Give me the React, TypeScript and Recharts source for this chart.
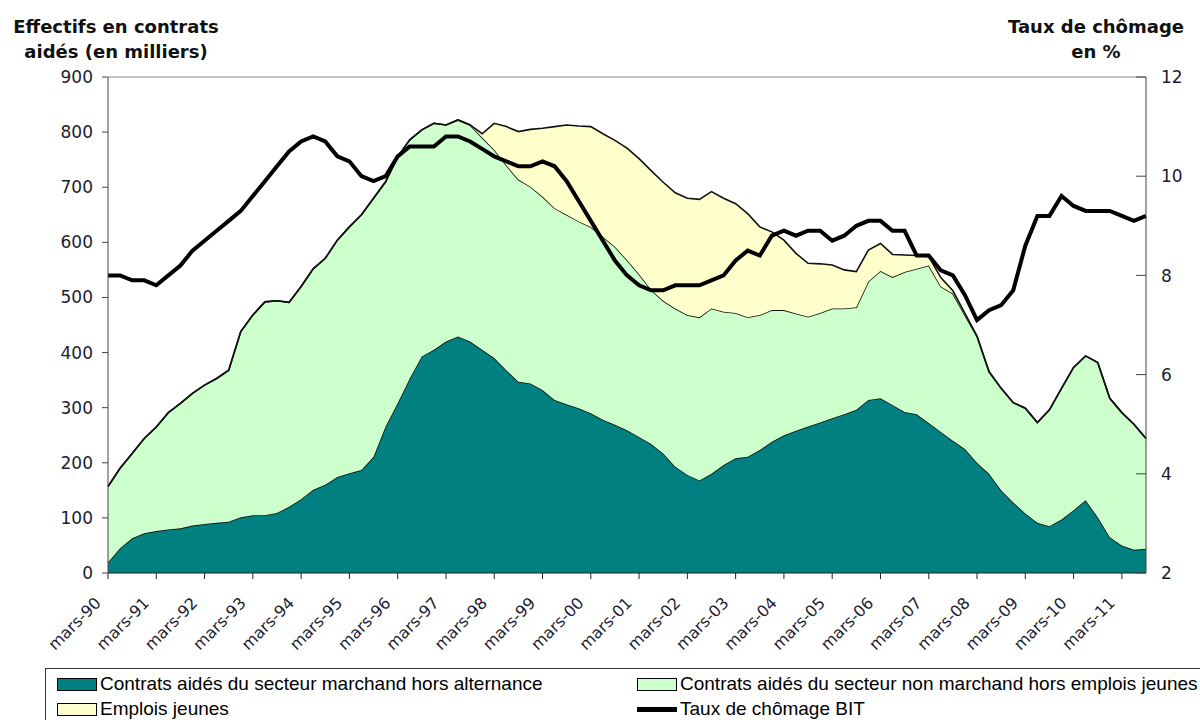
import { ComposedChart, Area, Line, XAxis, YAxis, ReferenceLine } from "recharts"

// quarterly series, mars-90 .. sept-11 (en milliers / en %)
const years = ["90", "91", "92", "93", "94", "95", "96", "97", "98", "99", "00", "01", "02", "03", "04", "05", "06", "07", "08", "09", "10", "11"]
const months = ["mars", "juin", "sept", "déc"]

const marchand = [
  19, 45, 63, 72, 76, 79, 81, 86, 89, 91, 93, 101, 105, 105, 109, 120, 134, 151, 160, 174,
  181, 187, 211, 266, 308, 353, 393, 405, 420, 429, 420, 405, 390, 368, 347, 344, 332, 314, 306, 299,
  290, 278, 269, 259, 247, 234, 217, 193, 178, 168, 180, 196, 208, 211, 223, 238, 250, 258, 266, 273,
  281, 288, 296, 314, 317, 305, 292, 288, 272, 256, 240, 225, 200, 180, 150, 128, 108, 91, 85, 97,
  114, 132, 101, 65, 50, 42, 44,
]

const nonMarchand = [
  138, 145, 154, 172, 189, 212, 227, 240, 252, 262, 275, 337, 363, 387, 385, 371, 386, 401, 411, 430,
  447, 463, 469, 444, 447, 433, 411, 411, 393, 393, 393, 385, 378, 372, 367, 357, 351, 348, 344, 339,
  338, 332, 323, 309, 295, 280, 277, 287, 290, 296, 300, 278, 264, 253, 245, 239, 227, 213, 199, 199,
  199, 192, 186, 215, 231, 232, 254, 264, 286, 264, 267, 243, 229, 185, 185, 181, 191, 182, 211, 238,
  259, 262, 281, 252, 241, 228, 200,
]

const emploisJeunes = [
  0, 0, 0, 0, 0, 0, 0, 0, 0, 0, 0, 0, 0, 0, 0, 0, 0, 0, 0, 0,
  0, 0, 0, 0, 0, 0, 0, 0, 0, 0, 0, 7, 48, 70, 87, 104, 124, 148, 163, 173,
  182, 187, 193, 203, 210, 216, 215, 210, 212, 214, 212, 206, 198, 188, 160, 142, 127, 109, 97, 89,
  79, 70, 65, 57, 50, 41, 31, 24, 16, 16, 5, 3, 1, 0, 0, 0, 0, 0, 0, 0,
  0, 0, 0, 0, 0, 0, 0,
]

const chomage = [
  8.0, 8.0, 7.9, 7.9, 7.8, 8.0, 8.2, 8.5, 8.7, 8.9, 9.1, 9.3, 9.6, 9.9, 10.2, 10.5, 10.7, 10.8, 10.7, 10.4,
  10.3, 10.0, 9.9, 10.0, 10.4, 10.6, 10.6, 10.6, 10.8, 10.8, 10.7, 10.55, 10.4, 10.3, 10.2, 10.2, 10.3, 10.2, 9.9, 9.5,
  9.1, 8.7, 8.3, 8.0, 7.8, 7.7, 7.7, 7.8, 7.8, 7.8, 7.9, 8.0, 8.3, 8.5, 8.4, 8.8, 8.9, 8.8, 8.9, 8.9,
  8.7, 8.8, 9.0, 9.1, 9.1, 8.9, 8.9, 8.4, 8.4, 8.1, 8.0, 7.6, 7.1, 7.3, 7.4, 7.7, 8.6, 9.2, 9.2, 9.6,
  9.4, 9.3, 9.3, 9.3, 9.2, 9.1, 9.2,
]

const quarters: string[] = []
years.forEach(y => months.forEach(m => quarters.push(`${m}-${y}`)))

const data = marchand.map((v, i) => ({
  periode: quarters[i],
  marchand: v,
  nonMarchand: nonMarchand[i],
  emploisJeunes: emploisJeunes[i],
  chomage: chomage[i],
}))

const FONT = "'DejaVu Sans', Verdana, sans-serif"
const TEXT = "#1c1c30"

const XTick = ({ x, y, payload }: any) => (
  <g transform={`translate(${x - 6},${y + 23})`}>
    <text textAnchor="end" transform="rotate(-45)" fontSize={16} fill={TEXT} fontFamily={FONT}>
      {payload.value}
    </text>
  </g>
)

const RightTick = ({ x, y, payload }: any) => (
  <g>
    <line x1={x - 10} x2={x} y1={y} y2={y} stroke="#444" />
    <text x={x + 15} y={y} dy="0.36em" textAnchor="start" fontSize={17} fill={TEXT} fontFamily={FONT}>
      {payload.value}
    </text>
  </g>
)

const legendItems = [
  { label: "Contrats aidés du secteur marchand hors alternance", color: "#008080", left: 57, top: 674, line: false },
  { label: "Contrats aidés du secteur non marchand hors emplois jeunes", color: "#ccffcc", left: 637, top: 674, line: false },
  { label: "Emplois jeunes", color: "#ffffcc", left: 57, top: 699, line: false },
  { label: "Taux de chômage BIT", color: "#000", left: 637, top: 699, line: true },
]

export default function App() {
  return (
    <div style={{ position: "absolute", left: 0, top: 0, width: 1200, height: 720, background: "#fff", overflow: "hidden" }}>
      <div style={{ position: "absolute", left: 0, top: 14, width: 232, textAlign: "center", fontFamily: FONT, fontWeight: "bold", fontSize: 18, lineHeight: "25px", color: "#111" }}>
        Effectifs en contrats<br />aidés (en milliers)
      </div>
      <div style={{ position: "absolute", left: 996, top: 14, width: 200, textAlign: "center", fontFamily: FONT, fontWeight: "bold", fontSize: 18, lineHeight: "25px", color: "#111" }}>
        Taux de chômage<br />en %
      </div>

      <ComposedChart width={1200} height={720} data={data} margin={{ top: 77, right: 4, bottom: 57, left: 48 }}>
        <XAxis
          dataKey="periode"
          interval={3}
          height={90}
          tick={<XTick />}
          tickSize={6}
          tickMargin={2}
          stroke="#222"
        />
        <YAxis
          yAxisId="left"
          domain={[0, 900]}
          ticks={[0, 100, 200, 300, 400, 500, 600, 700, 800, 900]}
          width={60}
          tickSize={6}
          tickMargin={9}
          stroke="#444"
          tick={{ fontSize: 17, fill: TEXT, fontFamily: FONT }}
        />
        <YAxis
          yAxisId="right"
          orientation="right"
          domain={[2, 12]}
          ticks={[2, 4, 6, 8, 10, 12]}
          width={50}
          tickSize={0}
          tickMargin={0}
          stroke="#444"
          tick={<RightTick />}
        />
        <ReferenceLine yAxisId="left" y={900} stroke="#888" />
        <Area yAxisId="left" type="linear" dataKey="marchand" stackId="a" fill="#008080" fillOpacity={1} stroke="#111" strokeWidth={1.6} isAnimationActive={false} />
        <Area yAxisId="left" type="linear" dataKey="nonMarchand" stackId="a" fill="#ccffcc" fillOpacity={1} stroke="#111" strokeWidth={1.6} isAnimationActive={false} />
        <Area yAxisId="left" type="linear" dataKey="emploisJeunes" stackId="a" fill="#ffffcc" fillOpacity={1} stroke="#111" strokeWidth={1.6} isAnimationActive={false} />
        <Line yAxisId="right" type="linear" dataKey="chomage" stroke="#000" strokeWidth={4} dot={false} isAnimationActive={false} />
      </ComposedChart>

      <div style={{ position: "absolute", left: 45, top: 668, width: 1170, height: 70, border: "1.5px solid #333", boxSizing: "border-box" }} />
      {legendItems.map(item => (
        <div key={item.label} style={{ position: "absolute", left: item.left, top: item.top, height: 20, display: "flex", alignItems: "center", fontFamily: "'Liberation Sans', Arial, sans-serif", fontSize: 19, color: "#000", whiteSpace: "nowrap" }}>
          {item.line ? (
            <span style={{ display: "inline-block", width: 40, height: 5, background: "#000", marginRight: 3 }} />
          ) : (
            <span style={{ display: "inline-block", width: 38, height: 11, background: item.color, border: "1px solid #000", marginRight: 3 }} />
          )}
          {item.label}
        </div>
      ))}
    </div>
  )
}
